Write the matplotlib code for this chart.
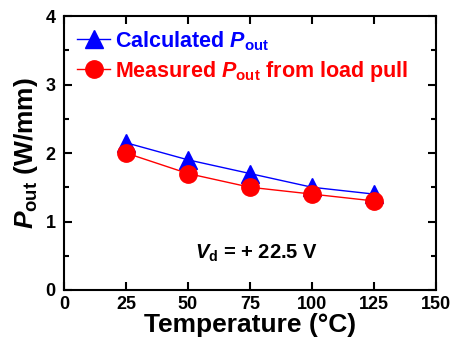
import matplotlib.pyplot as plt
from matplotlib.ticker import MultipleLocator

plt.rcParams['font.family'] = ['Liberation Sans', 'DejaVu Sans']
plt.rcParams['font.weight'] = 'bold'
plt.rcParams['mathtext.fontset'] = 'custom'
plt.rcParams['mathtext.rm'] = 'Liberation Sans:bold'
plt.rcParams['mathtext.it'] = 'Liberation Sans:bold:italic'
plt.rcParams['mathtext.bf'] = 'Liberation Sans:bold'

# --- data ---
temperature = [25, 50, 75, 100, 125]
p_calc = [2.15, 1.9, 1.7, 1.5, 1.4]
p_meas = [2.0, 1.7, 1.5, 1.4, 1.3]

fig = plt.figure(figsize=(4.53, 3.5), dpi=100)
ax = fig.add_axes([64 / 453, 60 / 350, 372 / 453, 274 / 350])

ax.plot(temperature, p_calc, color='blue', marker='^', markersize=13, lw=1,
        label=r'Calculated $\mathit{P}_{\mathrm{out}}$')
ax.plot(temperature, p_meas, color='red', marker='o', markersize=12.5, lw=1,
        label=r'Measured $\mathit{P}_{\mathrm{out}}$ from load pull')

ax.set_xlim(0, 150)
ax.set_ylim(0, 4)
ax.xaxis.set_major_locator(MultipleLocator(25))
ax.yaxis.set_major_locator(MultipleLocator(1))
ax.yaxis.set_minor_locator(MultipleLocator(0.5))
ax.tick_params(which='both', direction='in', top=True, right=True, labelsize=13, width=1.5)
ax.tick_params(which='major', length=5.5)
ax.tick_params(which='minor', length=3.5)
ax.tick_params(axis='y', pad=6)
ax.tick_params(axis='x', pad=4)
for s in ax.spines.values():
    s.set_linewidth(1.5)

ax.set_xlabel('Temperature (°C)', fontsize=19, fontweight='bold', labelpad=0)
ax.set_ylabel(r'$\mathit{P}_{\mathrm{out}}$ (W/mm)', fontsize=19, fontweight='bold', labelpad=4)

ax.text(77.5, 0.54, r'$\mathit{V}_{\mathrm{d}}$ = + 22.5 V', fontsize=14.5, ha='center', va='center')

leg = ax.legend(loc='upper left', frameon=False, fontsize=15.5, handlelength=1.55,
                handletextpad=0.2, borderaxespad=0.4, labelspacing=0.3,
                borderpad=0.2)
for txt, c in zip(leg.get_texts(), ['blue', 'red']):
    txt.set_color(c)

fig.savefig('out.png', dpi=100)
